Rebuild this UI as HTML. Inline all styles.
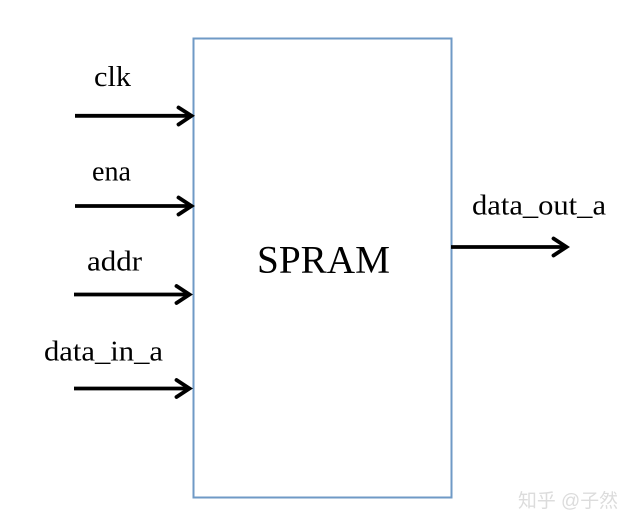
<!DOCTYPE html>
<html>
<head>
<meta charset="utf-8">
<style>
html,body{margin:0;padding:0;background:#fff;}
svg{display:block;}
text{font-family:"Liberation Serif",serif;fill:#000;}
</style>
</head>
<body>
<svg width="634" height="526" viewBox="0 0 634 526" xmlns="http://www.w3.org/2000/svg">
<rect x="193.500" y="38.500" width="258" height="459" fill="#fff" stroke="#6f9ac6" stroke-width="2"/>
<g stroke="#000" stroke-width="3.800" fill="none" stroke-linejoin="miter">
<line x1="75" y1="115.800" x2="191" y2="115.800"/><polyline stroke-linecap="round" points="178.500,107.500 191.500,115.800 178.500,124.500"/>
<line x1="75" y1="206" x2="191" y2="206"/><polyline stroke-linecap="round" points="178.500,197.500 191.500,206 178.500,214.500"/>
<line x1="74" y1="294.500" x2="189" y2="294.500"/><polyline stroke-linecap="round" points="176.500,286 189.500,294.500 176.500,303"/>
<line x1="74" y1="388.500" x2="189" y2="388.500"/><polyline stroke-linecap="round" points="176.500,380 189.500,388.500 176.500,397"/>
<line x1="451" y1="247" x2="566" y2="247"/><polyline stroke-linecap="round" points="553.500,238.500 566.500,247 553.500,255.500"/>
</g>
<text x="94" y="86" font-size="29" textLength="37" lengthAdjust="spacingAndGlyphs">clk</text>
<text x="92" y="180.500" font-size="29" textLength="39" lengthAdjust="spacingAndGlyphs">ena</text>
<text x="87" y="270.500" font-size="29" textLength="55" lengthAdjust="spacingAndGlyphs">addr</text>
<text x="44" y="360.500" font-size="29" textLength="119" lengthAdjust="spacingAndGlyphs">data_in_a</text>
<text x="472" y="214.500" font-size="29" textLength="134" lengthAdjust="spacingAndGlyphs">data_out_a</text>
<text x="257" y="272.500" font-size="39.500" textLength="133" lengthAdjust="spacingAndGlyphs">SPRAM</text>
<text x="518" y="507" font-size="19" textLength="100" lengthAdjust="spacingAndGlyphs" style="font-family:'Liberation Sans','Noto Sans CJK SC',sans-serif;fill:#dcdcdc">知乎 @子然</text>
</svg>
</body>
</html>
